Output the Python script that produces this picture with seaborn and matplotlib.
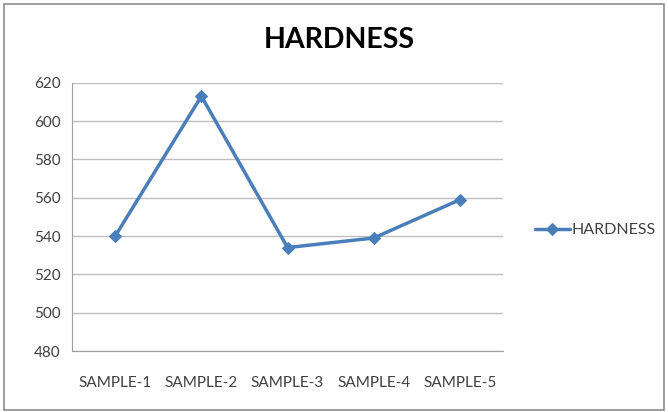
import pandas as pd
import numpy as np
import seaborn as sns
import matplotlib.pyplot as plt
from matplotlib.patches import Rectangle

samples = ["SAMPLE-1", "SAMPLE-2", "SAMPLE-3", "SAMPLE-4", "SAMPLE-5"]
hardness = [540, 613, 534, 539, 559]
y_ticks = [480, 500, 520, 540, 560, 580, 600, 620]

sns.set_style("white")
plt.rcParams['font.family'] = ['Lato', 'DejaVu Sans']

df = pd.DataFrame({"sample": samples, "HARDNESS": hardness})

fig = plt.figure(figsize=(6.68, 4.12), dpi=100)
ax = fig.add_axes([0.108, 0.148, 0.645, 0.651])

sns.lineplot(data=df, x="sample", y="HARDNESS", marker="D", markersize=6.5,
             color="#4A7EBB", linewidth=2.5, markeredgecolor="#4A7EBB",
             label="HARDNESS", ax=ax)

ax.set_xlim(-0.5, len(samples) - 0.5)
ax.set_ylim(480, 620)
ax.set_yticks(y_ticks)
ax.set_xticks(range(len(samples)))
ax.set_xticklabels(samples)
ax.set_xticks(np.arange(-0.5, len(samples), 1), minor=True)
ax.yaxis.grid(True, color="#BEBEBE", linewidth=1)
ax.set_axisbelow(True)
for s in ["top", "right"]:
    ax.spines[s].set_visible(False)
for s in ["left", "bottom"]:
    ax.spines[s].set_color("#A0A0A0")
ax.tick_params(axis="x", which="major", length=0, pad=18, labelsize=11, colors="#404040")
ax.tick_params(axis="x", which="minor", length=5, color="#A0A0A0", direction="out")
ax.tick_params(axis="y", length=5, color="#A0A0A0", direction="out", labelsize=11,
               labelcolor="#404040")
ax.set_xlabel("")
ax.set_ylabel("")

fig.suptitle("HARDNESS", x=0.508, y=0.935, fontsize=20.5, fontweight="bold", color="black")
ax.legend(loc="center left", bbox_to_anchor=(1.04, 0.45), frameon=False,
          fontsize=11.5, handlelength=2.2, handletextpad=0.1, labelcolor="#404040")

fig.patches.append(Rectangle((0.006, 0.006), 0.988, 0.985, transform=fig.transFigure,
                             fill=False, edgecolor="#8C8C8C", linewidth=1.2))

plt.savefig("out.png", dpi=100)
